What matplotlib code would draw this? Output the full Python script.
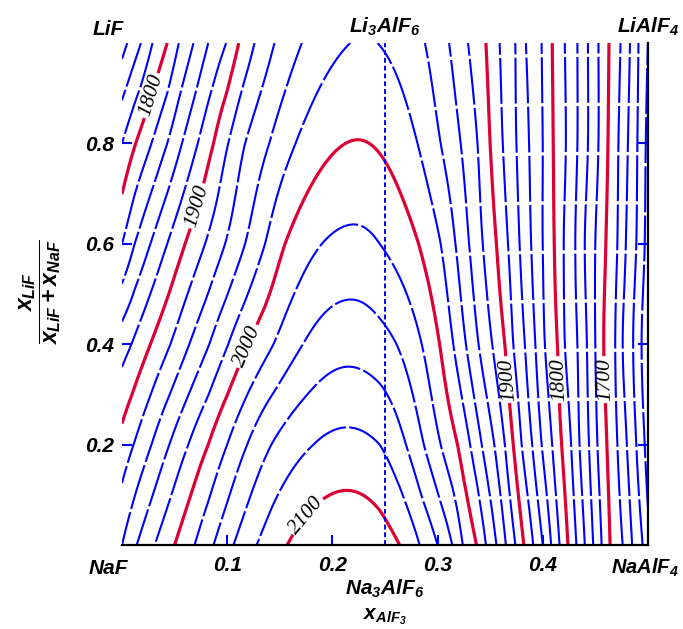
import numpy as np
import matplotlib.pyplot as plt

plt.rcParams['font.family'] = 'Liberation Sans'
plt.rcParams['font.weight'] = 'bold'
plt.rcParams['font.style'] = 'italic'
plt.rcParams['mathtext.fontset'] = 'custom'
plt.rcParams['mathtext.rm'] = 'Liberation Sans:bold:italic'
plt.rcParams['mathtext.it'] = 'Liberation Sans:bold:italic'
plt.rcParams['mathtext.bf'] = 'Liberation Sans:bold:italic'

# rows (LiF fraction) along which the isotherm crossings were read
row_y = [0.0, 0.2, 0.4, 0.6, 0.8, 1.0]

# ridge of the liquidus (max T) on each row
ridge_x = [0.214, 0.214, 0.216, 0.220, 0.224, 0.230]
ridge_T = [2117, 2085.6, 2053, 2025, 2000.8, 1982]

# left branch: x_AlF3 of isotherms, first level given, then every 20 K upwards
left_start = [1920, 1900, 1860, 1800, 1760, 1720]
left_y00 = [-0.018, 0.000, 0.014, 0.031, 0.050, 0.069, 0.087, 0.106, 0.128, 0.157]
left_y02 = [-0.006, 0.011, 0.028, 0.045, 0.063, 0.082, 0.100, 0.119, 0.142, 0.182]
left_y04 = [-0.010, 0.009, 0.027, 0.046, 0.064, 0.083, 0.101, 0.120, 0.144, 0.172]
left_y06 = [-0.015, 0.000, 0.012, 0.027, 0.043, 0.060, 0.079, 0.098, 0.117, 0.136,
            0.155, 0.190]
left_y08 = [-0.014, 0.000, 0.013, 0.028, 0.043, 0.057, 0.072, 0.087, 0.101, 0.117,
            0.140, 0.165]
left_y10 = [-0.008, 0.005, 0.018, 0.029, 0.043, 0.054, 0.068, 0.082, 0.099, 0.111,
            0.126, 0.145, 0.171, 0.217]

# right branch: first level given, then every 20 K downwards
right_start = [2100, 2080, 2040, 2020, 1980, 1980]
right_y00 = [0.264, 0.283, 0.300, 0.314, 0.324, 0.337, 0.346, 0.356, 0.365, 0.374,
             0.382, 0.391, 0.400, 0.408, 0.416, 0.424, 0.432, 0.440, 0.448, 0.456,
             0.464, 0.476, 0.485, 0.495, 0.502]
right_y02 = [0.245, 0.270, 0.287, 0.303, 0.319, 0.331, 0.342, 0.354, 0.364, 0.372,
             0.380, 0.390, 0.399, 0.409, 0.418, 0.427, 0.435, 0.444, 0.452, 0.461,
             0.471, 0.480, 0.489, 0.497, 0.504]
right_y04 = [0.261, 0.285, 0.302, 0.315, 0.327, 0.339, 0.352, 0.364, 0.372, 0.383,
             0.393, 0.402, 0.414, 0.421, 0.433, 0.442, 0.450, 0.458, 0.469, 0.476,
             0.486, 0.494, 0.502]
right_y06 = [0.245, 0.282, 0.303, 0.317, 0.330, 0.343, 0.356, 0.367, 0.378, 0.389,
             0.400, 0.411, 0.420, 0.431, 0.440, 0.450, 0.460, 0.471, 0.479, 0.489,
             0.497, 0.504]
right_y08 = [0.281, 0.303, 0.322, 0.338, 0.350, 0.362, 0.375, 0.387, 0.400, 0.410,
             0.422, 0.433, 0.443, 0.453, 0.462, 0.472, 0.481, 0.490, 0.498, 0.505]
right_y10 = [0.243, 0.288, 0.311, 0.329, 0.346, 0.359, 0.374, 0.384, 0.399, 0.409,
             0.421, 0.433, 0.443, 0.453, 0.463, 0.474, 0.483, 0.491, 0.500, 0.507]

left_rows = [left_y00, left_y02, left_y04, left_y06, left_y08, left_y10]
right_rows = [right_y00, right_y02, right_y04, right_y06, right_y08, right_y10]

step = 20
red_levels = [1700, 1800, 1900, 2000, 2100]
blue_levels = [t for t in range(1600, 2120, step) if t not in red_levels]

# labels of the red isotherms
label_pos = [(0.027, 0.896), (0.069, 0.677), (0.117, 0.398), (0.169, 0.07),
             (0.364, 0.329), (0.41, 0.329), (0.4525, 0.329)]


def row_profile(xg, xp, tp, l0, lx, r0, rx):
    # temperature along one row, quadratic near the ridge
    t = np.empty_like(xg)
    lx = np.asarray(lx)
    rx = np.asarray(rx)
    llev = l0 + step * np.arange(len(lx))
    rlev = r0 - step * np.arange(len(rx))
    d = np.r_[0, xp - lx[::-1]]
    s = np.r_[0, np.sqrt(tp - llev[::-1])]
    m = xg <= xp
    t[m] = tp - np.interp(xp - xg[m], d, s) ** 2
    d = np.r_[0, rx - xp]
    s = np.r_[0, np.sqrt(tp - rlev)]
    t[~m] = tp - np.interp(xg[~m] - xp, d, s) ** 2
    return t


xg = np.linspace(0, 0.5, 601)
yg = np.linspace(0, 1, 401)
prof = np.array([row_profile(xg, ridge_x[k], ridge_T[k], left_start[k], left_rows[k],
                             right_start[k], right_rows[k]) for k in range(len(row_y))])

# smooth blend between rows (Catmull-Rom)
pad = np.vstack([2 * prof[0] - prof[1], prof, 2 * prof[-1] - prof[-2]])
u = yg / (row_y[1] - row_y[0])
k = np.minimum(u.astype(int), len(row_y) - 2)
t = (u - k)[:, None]
p0, p1, p2, p3 = pad[k], pad[k + 1], pad[k + 2], pad[k + 3]
T = 0.5 * (2 * p1 + (p2 - p0) * t + (2 * p0 - 5 * p1 + 4 * p2 - p3) * t ** 2
           + (3 * p1 - p0 - 3 * p2 + p3) * t ** 3)

fig = plt.figure(figsize=(6.83, 6.29), dpi=100)
ax = fig.add_axes([0.1786, 0.1335, 0.770, 0.798])

ax.contour(xg, yg, T, levels=blue_levels, colors='#0000ff', linewidths=1.5,
           linestyles=[(0, (22, 1.6))])
cs = ax.contour(xg, yg, T, levels=red_levels, colors='#dc0035', linewidths=2.3)
with plt.rc_context({'font.family': 'Liberation Serif', 'font.weight': 'normal',
                     'font.style': 'italic'}):
    labels = ax.clabel(cs, fmt='%d', fontsize=15.5, colors='black', inline=True,
                       inline_spacing=2, manual=label_pos)
# read the near-vertical labels from bottom to top
for txt in labels:
    r = txt.get_rotation() % 360
    if 200 < r < 340:
        txt.set_rotation(r - 180)

ax.axvline(0.25, color='#0000ff', lw=1.4, dashes=(2.5, 1.5))

ax.set_xlim(0, 0.5)
ax.set_ylim(0, 1)
ax.spines['top'].set_visible(False)
ax.spines['left'].set_visible(False)
for sp in ['bottom', 'right']:
    ax.spines[sp].set_linewidth(1.6)
    ax.spines[sp].set_color('black')

ax.set_xticks([0.1, 0.2, 0.3, 0.4])
ax.set_xticklabels(['0.1', '0.2', '0.3', '0.4'])
ax.set_yticks([0.2, 0.4, 0.6, 0.8])
ax.set_yticklabels(['0.2', '0.4', '0.6', '0.8'])
ax.tick_params(direction='in', length=7, width=1.5, color='#0000ff',
               labelsize=15, right=True, pad=8)
ax.tick_params(axis='y', pad=6)

fs = 15
ax.text(-0.013, 1.016, 'LiF', ha='center', va='baseline', fontsize=fs, clip_on=False)
ax.text(0.25, 1.02, r'Li$_3$AlF$_6$', ha='center', va='baseline', fontsize=fs, clip_on=False)
ax.text(0.5, 1.02, r'LiAlF$_4$', ha='center', va='baseline', fontsize=fs, clip_on=False)
ax.text(-0.013, -0.058, 'NaF', ha='center', va='baseline', fontsize=fs, clip_on=False)
ax.text(0.497, -0.058, r'NaAlF$_4$', ha='center', va='baseline', fontsize=14.5,
        clip_on=False)
ax.text(0.25, -0.0996, r'Na$_3$AlF$_6$', ha='center', va='baseline', fontsize=fs, clip_on=False)
ax.text(0.25, -0.149, r'$x_{AlF_3}$', ha='center', va='baseline', fontsize=fs, clip_on=False)
ax.text(-0.078, 0.504, r'$\dfrac{x_{LiF}}{x_{LiF}+x_{NaF}}$', ha='center', va='center',
        rotation=90, fontsize=16.5, clip_on=False)

fig.savefig('out.png', dpi=100)
